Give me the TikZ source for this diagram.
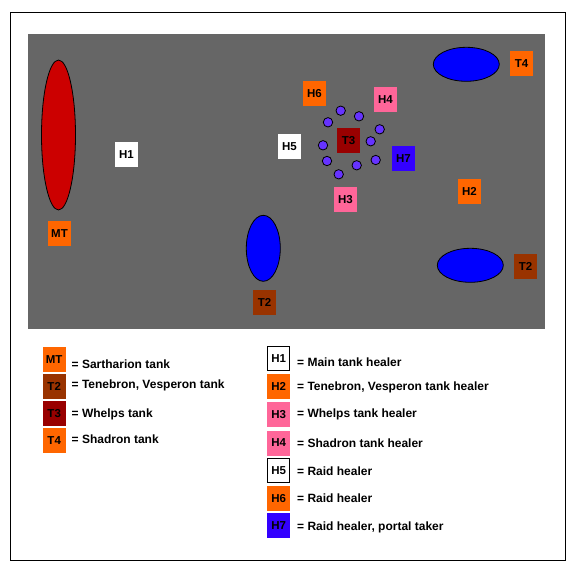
\documentclass[tikz,border=0pt]{standalone}
\usepackage{fontspec}
\setmainfont{Liberation Sans}
\usetikzlibrary{shapes.geometric}
\definecolor{floor}{HTML}{666666}
\definecolor{tankorange}{HTML}{FF6600}
\definecolor{tankbrown}{HTML}{993300}
\definecolor{tankred}{HTML}{990000}
\definecolor{healpink}{HTML}{FF6699}
\definecolor{healblue}{HTML}{3300FF}
\definecolor{dragonred}{HTML}{CC0000}
\definecolor{dragonblue}{HTML}{0000FF}
\definecolor{whelp}{HTML}{6633FF}
\begin{document}
\begin{tikzpicture}[x=1pt, y=-1pt,
    marker/.style = {rectangle, minimum width=23pt, minimum height=25pt, inner sep=0pt, font=\bfseries\fontsize{11.5pt}{12pt}\selectfont},
    keybox/.style = {marker, draw, line width=0.8pt, minimum width=22pt, minimum height=24pt},
    dragon/.style = {ellipse, draw, line width=0.8pt, inner sep=0pt},
    whelpdot/.style = {circle, draw, line width=0.8pt, fill=whelp, minimum size=9.4pt, inner sep=0pt},
    keytext/.style = {anchor=base west, inner sep=0pt, font=\bfseries\fontsize{12pt}{14pt}\selectfont}]
  \useasboundingbox (0, 0) rectangle (570, 571);

  % Frame and room floor.
  \draw [line width=1pt] (10.5, 12.5) rectangle (565.5, 560.5);
  \fill [floor] (28, 34) rectangle (545, 328.5);

  % Dragons.
  \node at (58.5, 135) [dragon, fill=dragonred, minimum width=34pt, minimum height=150pt, name=Sartharion] {};
  \node at (466.3, 64.3) [dragon, fill=dragonblue, minimum width=66pt, minimum height=34pt, name=Shadron] {};
  \node at (470.3, 265.3) [dragon, fill=dragonblue, minimum width=66pt, minimum height=34pt, name=Vesperon] {};
  \node at (263.3, 248.3) [dragon, fill=dragonblue, minimum width=34pt, minimum height=66pt, name=Tenebron] {};

  % Whelps.
  \node at (340.7, 110.7) [whelpdot, name=Whelp1] {};
  \node at (359, 116.3) [whelpdot, name=Whelp2] {};
  \node at (328, 122.3) [whelpdot, name=Whelp3] {};
  \node at (379.7, 129.3) [whelpdot, name=Whelp4] {};
  \node at (323, 145.3) [whelpdot, name=Whelp5] {};
  \node at (370.7, 141.3) [whelpdot, name=Whelp6] {};
  \node at (327, 161) [whelpdot, name=Whelp7] {};
  \node at (356.7, 165.3) [whelpdot, name=Whelp8] {};
  \node at (375.7, 160) [whelpdot, name=Whelp9] {};
  \node at (338.7, 174.3) [whelpdot, name=Whelp10] {};

  % Positions.
  \node at (59.5, 233.5) [marker, fill=tankorange, name=PosMT] {MT};
  \node at (126.5, 154.5) [marker, fill=white, name=PosH1] {H1};
  \node at (521.5, 63.3) [marker, fill=tankorange, name=PosT4] {T4};
  \node at (469.5, 191.3) [marker, fill=tankorange, name=PosH2] {H2};
  \node at (525.5, 266.3) [marker, fill=tankbrown, name=PosT2b] {T2};
  \node at (264.5, 302.3) [marker, fill=tankbrown, name=PosT2a] {T2};
  \node at (314.5, 93.3) [marker, fill=tankorange, name=PosH6] {H6};
  \node at (385.5, 99.3) [marker, fill=healpink, name=PosH4] {H4};
  \node at (289.5, 146.5) [marker, fill=white, name=PosH5] {H5};
  \node at (348.5, 140.3) [marker, fill=tankred, name=PosT3] {T3};
  \node at (403.5, 158.3) [marker, fill=healblue, name=PosH7] {H7};
  \node at (345.5, 199.3) [marker, fill=healpink, name=PosH3] {H3};

  % Legend, tanks.
  \node at (54.2, 359.7) [marker, fill=tankorange, name=KeyMT] {MT};
  \node at (54.2, 386.3) [marker, fill=tankbrown, name=KeyT2] {T2};
  \node at (54.2, 413.3) [marker, fill=tankred, name=KeyT3] {T3};
  \node at (54.2, 440.3) [marker, fill=tankorange, name=KeyT4] {T4};
  \node at (71.5, 368) [keytext, name=TextMT] {= Sartharion tank};
  \node at (71.5, 388.7) [keytext, name=TextT2] {= Tenebron, Vesperon tank};
  \node at (71.5, 417.3) [keytext, name=TextT3] {= Whelps tank};
  \node at (71.5, 443.5) [keytext, name=TextT4] {= Shadron tank};

  % Legend, healers.
  \node at (278.7, 358.7) [keybox, fill=white, name=KeyH1] {H1};
  \node at (278.7, 386.3) [marker, fill=tankorange, name=KeyH2] {H2};
  \node at (278.7, 414.3) [marker, fill=healpink, name=KeyH3] {H3};
  \node at (278.7, 443) [marker, fill=healpink, name=KeyH4] {H4};
  \node at (278.7, 470.7) [keybox, fill=white, name=KeyH5] {H5};
  \node at (278.7, 498.3) [marker, fill=tankorange, name=KeyH6] {H6};
  \node at (278.7, 525.3) [marker, fill=healblue, name=KeyH7] {H7};
  \node at (297, 366) [keytext, name=TextH1] {= Main tank healer};
  \node at (297, 390.7) [keytext, name=TextH2] {= Tenebron, Vesperon tank healer};
  \node at (297, 417.3) [keytext, name=TextH3] {= Whelps tank healer};
  \node at (297, 447.3) [keytext, name=TextH4] {= Shadron tank healer};
  \node at (297, 475.3) [keytext, name=TextH5] {= Raid healer};
  \node at (297, 502.7) [keytext, name=TextH6] {= Raid healer};
  \node at (297, 530) [keytext, name=TextH7] {= Raid healer, portal taker};
\end{tikzpicture}
\end{document}
